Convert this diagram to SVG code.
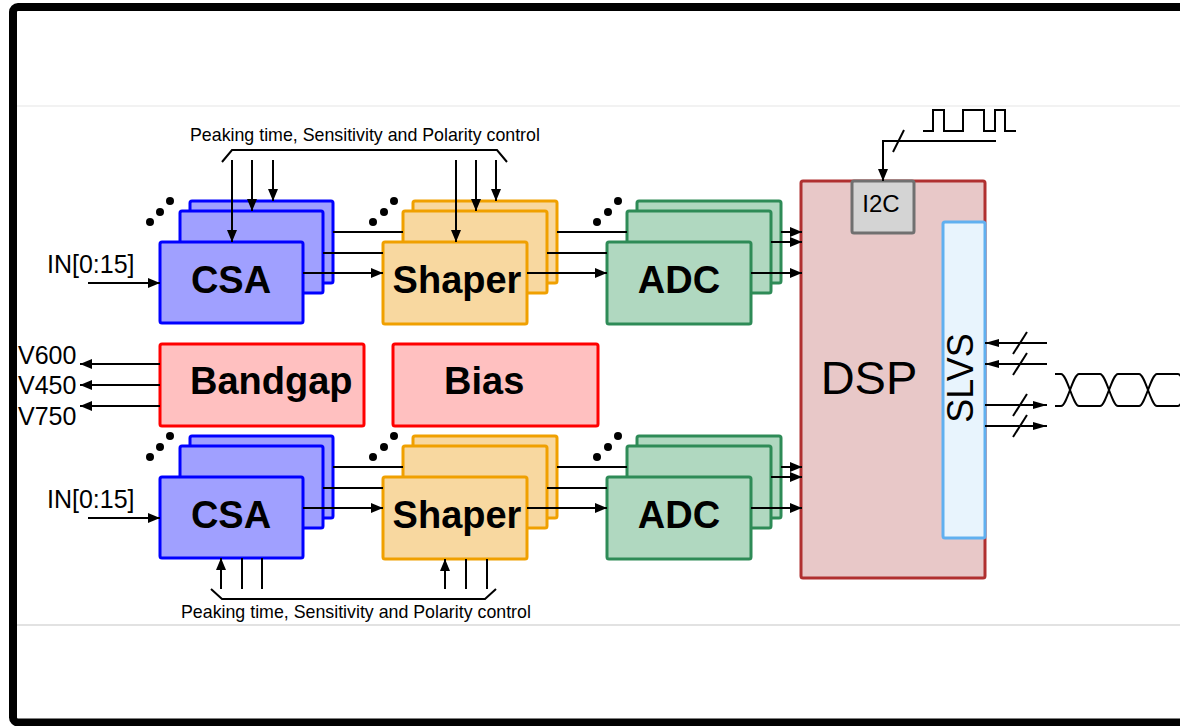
<svg xmlns="http://www.w3.org/2000/svg" width="1180" height="726" viewBox="0 0 1180 726">
<style>
.csa{fill:#a0a0ff;stroke:#0000ff;stroke-width:3}
.shp{fill:#f8d8a0;stroke:#f0a000;stroke-width:3}
.adc{fill:#b0d8c0;stroke:#2e8b57;stroke-width:3}
.red{fill:#ffc0c0;stroke:#ff0000;stroke-width:3}
.dsp{fill:#e8c8c8;stroke:#b03030;stroke-width:3}
.i2c{fill:#d4d4d4;stroke:#707070;stroke-width:3}
.slvs{fill:#e8f4fd;stroke:#60b0f0;stroke-width:3}
.w{stroke:#000;stroke-width:2;fill:none}
.t{font-family:"Liberation Sans",Arial,Helvetica,sans-serif;fill:#000}
.big{font-weight:bold;font-size:38px}
.lbl{font-size:25px}
.ctl{font-size:17.8px}
.dot{fill:#000}
</style>
<defs>
<marker id="ah" viewBox="0 0 12 10" refX="12" refY="5" markerWidth="12" markerHeight="10" markerUnits="userSpaceOnUse" orient="auto"><path d="M0,0 L12,5 L0,10 z" fill="#000"/></marker>
<marker id="as" viewBox="0 0 14 8" refX="14" refY="4" markerWidth="14" markerHeight="8" markerUnits="userSpaceOnUse" orient="auto"><path d="M0,0 L14,4 L0,8 z" fill="#000"/></marker>
</defs>
<rect width="1180" height="726" fill="#fff"/>
<rect x="13" y="7" width="1200" height="715.5" rx="5" fill="none" stroke="#000" stroke-width="8"/>
<line x1="17" y1="106" x2="1180" y2="106" stroke="#eeeeee" stroke-width="1.5"/>
<line x1="17" y1="625" x2="1180" y2="625" stroke="#d8d8d8" stroke-width="1.5"/>

<g id="csa-top">
<rect class="csa" x="190" y="201" width="143" height="82" rx="2"/>
<rect class="csa" x="180" y="211" width="143" height="82" rx="2"/>
<rect class="csa" x="160" y="242" width="143" height="81" rx="2"/>
<text class="t big" x="231" y="293" text-anchor="middle">CSA</text>
<circle class="dot" cx="150" cy="222" r="4"/><circle class="dot" cx="160" cy="212" r="4"/><circle class="dot" cx="170" cy="201" r="4"/>
</g>
<g id="shaper-top">
<rect class="shp" x="413" y="201" width="144" height="82" rx="2"/>
<rect class="shp" x="403" y="211" width="144" height="82" rx="2"/>
<rect class="shp" x="383" y="242" width="144" height="82" rx="2"/>
<text class="t big" x="457" y="293" text-anchor="middle">Shaper</text>
<circle class="dot" cx="373" cy="222" r="4"/><circle class="dot" cx="384" cy="212" r="4"/><circle class="dot" cx="394" cy="201" r="4"/>
</g>
<g id="adc-top">
<rect class="adc" x="637" y="201" width="144" height="82" rx="2"/>
<rect class="adc" x="627" y="211" width="144" height="82" rx="2"/>
<rect class="adc" x="607" y="242" width="144" height="82" rx="2"/>
<text class="t big" x="679" y="293" text-anchor="middle">ADC</text>
<circle class="dot" cx="597" cy="222" r="4"/><circle class="dot" cx="608" cy="212" r="4"/><circle class="dot" cx="618" cy="201" r="4"/>
</g>

<g id="csa-bottom">
<rect class="csa" x="190" y="436" width="143" height="82" rx="2"/>
<rect class="csa" x="180" y="446" width="143" height="82" rx="2"/>
<rect class="csa" x="160" y="477" width="143" height="81" rx="2"/>
<text class="t big" x="231" y="528" text-anchor="middle">CSA</text>
<circle class="dot" cx="150" cy="457" r="4"/><circle class="dot" cx="160" cy="447" r="4"/><circle class="dot" cx="170" cy="436" r="4"/>
</g>
<g id="shaper-bottom">
<rect class="shp" x="413" y="436" width="144" height="82" rx="2"/>
<rect class="shp" x="403" y="446" width="144" height="82" rx="2"/>
<rect class="shp" x="383" y="477" width="144" height="82" rx="2"/>
<text class="t big" x="457" y="528" text-anchor="middle">Shaper</text>
<circle class="dot" cx="373" cy="457" r="4"/><circle class="dot" cx="384" cy="447" r="4"/><circle class="dot" cx="394" cy="436" r="4"/>
</g>
<g id="adc-bottom">
<rect class="adc" x="637" y="436" width="144" height="82" rx="2"/>
<rect class="adc" x="627" y="446" width="144" height="82" rx="2"/>
<rect class="adc" x="607" y="477" width="144" height="82" rx="2"/>
<text class="t big" x="679" y="528" text-anchor="middle">ADC</text>
<circle class="dot" cx="597" cy="457" r="4"/><circle class="dot" cx="608" cy="447" r="4"/><circle class="dot" cx="618" cy="436" r="4"/>
</g>

<g id="bandgap">
<rect class="red" x="160" y="344" width="204" height="82" rx="2"/>
<text class="t big" x="190" y="394">Bandgap</text>
</g>
<g id="bias">
<rect class="red" x="393" y="344" width="205" height="82" rx="2"/>
<text class="t big" x="444" y="394">Bias</text>
</g>

<g id="dsp">
<rect class="dsp" x="801" y="181" width="184" height="397" rx="2"/>
<text class="t" x="869" y="394" font-size="47" text-anchor="middle">DSP</text>
</g>
<g id="i2c">
<rect class="i2c" x="852" y="181" width="62" height="52" rx="2"/>
<text class="t" x="881" y="212" font-size="24" text-anchor="middle">I2C</text>
</g>
<g id="slvs">
<rect class="slvs" x="943" y="222" width="42" height="316" rx="2"/>
<text class="t" transform="translate(973,378) rotate(-90)" font-size="36" text-anchor="middle">SLVS</text>
</g>

<g id="labels">
<text class="t ctl" x="190" y="141">Peaking time, Sensitivity and Polarity control</text>
<text class="t ctl" x="181" y="618">Peaking time, Sensitivity and Polarity control</text>
<text class="t lbl" x="47" y="273">IN[0:15]</text>
<text class="t lbl" x="47" y="508">IN[0:15]</text>
<text class="t lbl" x="18" y="364">V600</text>
<text class="t lbl" x="18" y="394">V450</text>
<text class="t lbl" x="18" y="425">V750</text>
</g>

<g id="connectors">
<path class="w" d="M222,162 L232,150 H497 L507,162"/>
<line class="w" x1="232" y1="160" x2="232" y2="242" marker-end="url(#ah)"/>
<line class="w" x1="252" y1="160" x2="252" y2="211" marker-end="url(#ah)"/>
<line class="w" x1="273" y1="160" x2="273" y2="201" marker-end="url(#ah)"/>
<line class="w" x1="456" y1="160" x2="456" y2="242" marker-end="url(#ah)"/>
<line class="w" x1="476" y1="160" x2="476" y2="211" marker-end="url(#ah)"/>
<line class="w" x1="496" y1="160" x2="496" y2="201" marker-end="url(#ah)"/>
<path class="w" d="M211,589 L222,599 H485 L496,589"/>
<line class="w" x1="221" y1="589" x2="221" y2="558" marker-end="url(#ah)"/>
<line class="w" x1="242" y1="589" x2="242" y2="558"/>
<line class="w" x1="262" y1="589" x2="262" y2="558"/>
<line class="w" x1="445" y1="589" x2="445" y2="559" marker-end="url(#ah)"/>
<line class="w" x1="466" y1="589" x2="466" y2="559"/>
<line class="w" x1="487" y1="589" x2="487" y2="559"/>
<line class="w" x1="88" y1="283" x2="160" y2="283" marker-end="url(#ah)"/>
<line class="w" x1="88" y1="518" x2="160" y2="518" marker-end="url(#ah)"/>
<line class="w" x1="333" y1="232" x2="403" y2="232"/>
<line class="w" x1="323" y1="253" x2="383" y2="253"/>
<line class="w" x1="303" y1="273" x2="383" y2="273" marker-end="url(#ah)"/>
<line class="w" x1="557" y1="232" x2="627" y2="232"/>
<line class="w" x1="547" y1="253" x2="607" y2="253"/>
<line class="w" x1="527" y1="273" x2="607" y2="273" marker-end="url(#ah)"/>
<line class="w" x1="781" y1="232" x2="802" y2="232" marker-end="url(#ah)"/>
<line class="w" x1="771" y1="242" x2="802" y2="242" marker-end="url(#ah)"/>
<line class="w" x1="751" y1="273" x2="802" y2="273" marker-end="url(#ah)"/>
<line class="w" x1="333" y1="467" x2="403" y2="467"/>
<line class="w" x1="323" y1="488" x2="383" y2="488"/>
<line class="w" x1="303" y1="508" x2="383" y2="508" marker-end="url(#ah)"/>
<line class="w" x1="557" y1="467" x2="627" y2="467"/>
<line class="w" x1="547" y1="488" x2="607" y2="488"/>
<line class="w" x1="527" y1="508" x2="607" y2="508" marker-end="url(#ah)"/>
<line class="w" x1="781" y1="467" x2="802" y2="467" marker-end="url(#ah)"/>
<line class="w" x1="771" y1="477" x2="802" y2="477" marker-end="url(#ah)"/>
<line class="w" x1="751" y1="508" x2="802" y2="508" marker-end="url(#ah)"/>
<line class="w" x1="160" y1="364" x2="80" y2="364" marker-end="url(#ah)"/>
<line class="w" x1="160" y1="385" x2="80" y2="385" marker-end="url(#ah)"/>
<line class="w" x1="160" y1="406" x2="80" y2="406" marker-end="url(#ah)"/>
<path class="w" d="M996,141 H883 V181" marker-end="url(#ah)"/>
<line class="w" x1="893" y1="152" x2="904" y2="130"/>
<path class="w" d="M923,131 H933 V110 H944 V131 H963 V110 H984 V131 H995 V110 H1005 V131 H1016"/>
<line class="w" x1="1047" y1="343" x2="985" y2="343" marker-end="url(#as)"/>
<line class="w" x1="1047" y1="364" x2="985" y2="364" marker-end="url(#as)"/>
<line class="w" x1="985" y1="405" x2="1047" y2="405" marker-end="url(#as)"/>
<line class="w" x1="985" y1="426" x2="1047" y2="426" marker-end="url(#as)"/>
<line class="w" x1="1013" y1="354" x2="1027" y2="332"/>
<line class="w" x1="1013" y1="375" x2="1027" y2="353"/>
<line class="w" x1="1013" y1="416" x2="1027" y2="394"/>
<line class="w" x1="1013" y1="437" x2="1027" y2="415"/>
<path class="w" d="M1055,374 H1061 C1067,374 1073,406 1079,406 H1100 C1106,406 1112,374 1118,374 H1139 C1145,374 1151,406 1157,406 H1178 C1184,406 1190,374 1196,374"/>
<path class="w" d="M1055,406 H1061 C1067,406 1073,374 1079,374 H1100 C1106,374 1112,406 1118,406 H1139 C1145,406 1151,374 1157,374 H1178 C1184,374 1190,406 1196,406"/>
</g>
</svg>
